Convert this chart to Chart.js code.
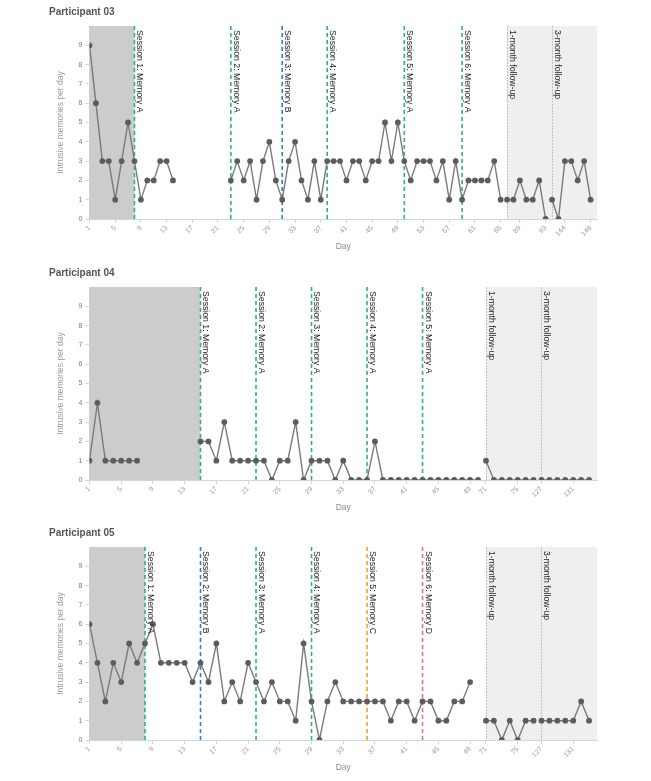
<!DOCTYPE html>
<html>
<head>
<meta charset="utf-8">
<script src="https://cdn.jsdelivr.net/npm/chart.js@4.4.0/dist/chart.umd.min.js"></script>
<style>
  body { margin: 0; background: #fff; }
  .panel { position: absolute; left: 0; width: 651px; height: 260px; }
</style>
</head>
<body>
<div class="panel" style="top:0px"><canvas id="p03"></canvas></div>
<div class="panel" style="top:261px"><canvas id="p04"></canvas></div>
<div class="panel" style="top:521px"><canvas id="p05"></canvas></div>
<script>
// ---- data ----
const yTicks = [0, 1, 2, 3, 4, 5, 6, 7, 8, 9];

// Participant 03
const p03Main = [9, 6, 3, 3, 1, 3, 5, 3, 1, 2, 2, 3, 3, 2,
  null, null, null, null, null, null, null, null,
  2, 3, 2, 3, 1, 3, 4, 2, 1, 3, 4, 2, 1, 3, 1, 3, 3, 3, 2, 3, 3, 2, 3, 3, 5, 3, 5, 3,
  2, 3, 3, 3, 2, 3, 1, 3, 1, 2, 2, 2, 2, 3, 1];
const p03Month1 = [1, 1, 2, 1, 1, 2, 0];
const p03Month1Days = [87, 88, 89, 90, 91, 92, 93];
const p03Month3 = [1, 0, 3, 3, 2, 3, 1];
const p03Month3Days = [142, 143, 144, 145, 146, 147, 148];
const p03TickDays = [1, 5, 9, 13, 17, 21, 25, 29, 33, 37, 41, 45, 49, 53, 57, 61, 65, 89, 93, 144, 148];
const p03SessionDays = [8, 23, 31, 38, 50, 59];
const p03SessionMemory = ['A', 'A', 'B', 'A', 'A', 'A'];

// Participant 04
const p04Main = [1, 4, 1, 1, 1, 1, 1,
  null, null, null, null, null, null, null,
  2, 2, 1, 3, 1, 1, 1, 1, 1, 0, 1, 1, 3, 0, 1, 1, 1, 0, 1, 0, 0, 0, 2, 0,
  0, 0, 0, 0, 0, 0, 0, 0, 0, 0, 0, 0];
const p04Month1 = [1, 0, 0, 0, 0, 0, 0];
const p04Month1Days = [71, 72, 73, 74, 75, 76, 77];
const p04Month3 = [0, 0, 0, 0, 0, 0, 0];
const p04Month3Days = [127, 128, 129, 130, 131, 132, 133];
const p04TickDays = [1, 5, 9, 13, 17, 21, 25, 29, 33, 37, 41, 45, 49, 71, 75, 127, 131];
const p04SessionDays = [15, 22, 29, 36, 43];
const p04SessionMemory = ['A', 'A', 'A', 'A', 'A'];

// Participant 05
const p05Main = [6, 4, 2, 4, 3, 5, 4, 5, 6, 4, 4, 4, 4, 3, 4, 3, 5, 2, 3, 2, 4, 3, 2, 3, 2, 2, 1, 5, 2, 0,
  2, 3, 2, 2, 2, 2, 2, 2, 1, 2, 2, 1, 2, 2, 1, 1, 2, 2, 3, null];
const p05Month1 = [1, 1, 0, 1, 0, 1, 1];
const p05Month1Days = [71, 72, 73, 74, 75, 76, 77];
const p05Month3 = [1, 1, 1, 1, 1, 2, 1];
const p05Month3Days = [127, 128, 129, 130, 131, 132, 133];
const p05TickDays = [1, 5, 9, 13, 17, 21, 25, 29, 33, 37, 41, 45, 49, 71, 75, 127, 131];
const p05SessionDays = [8, 15, 22, 29, 36, 43];
const p05SessionMemory = ['A', 'B', 'A', 'A', 'C', 'D'];

// ---- styling ----
const FONT = '"Liberation Sans", Arial, sans-serif';
const memoryColors = { A: '#2db37f', B: '#2f7fcc', C: '#f2a51c', D: '#d873a6' };

// draws baseline / follow-up bands and the session lines with their labels
const phasePlugin = {
  id: 'phases',
  beforeDatasetsDraw(chart, args, opts) {
    const { ctx, chartArea: a, scales: { x } } = chart;
    ctx.save();
    const x0 = x.getPixelForValue(0);
    const xb = x.getPixelForValue(opts.baselineEnd);
    ctx.fillStyle = '#cccccc';
    ctx.fillRect(x0, a.top, xb - x0, a.bottom - a.top);
    const xf = x.getPixelForValue(opts.followUps[0].at);
    ctx.fillStyle = '#efefef';
    ctx.fillRect(xf, a.top, a.right - xf, a.bottom - a.top);

    ctx.lineWidth = 1;
    ctx.strokeStyle = '#c2c2c2';
    ctx.setLineDash([2, 1]);
    opts.followUps.forEach(f => {
      const px = Math.round(x.getPixelForValue(f.at)) + 0.5;
      ctx.beginPath(); ctx.moveTo(px, a.top); ctx.lineTo(px, a.bottom); ctx.stroke();
    });
    ctx.lineWidth = 1.6;
    ctx.setLineDash([4, 3]);
    opts.sessions.forEach(s => {
      const px = x.getPixelForValue(s.at);
      ctx.strokeStyle = memoryColors[s.memory];
      ctx.beginPath(); ctx.moveTo(px, a.top); ctx.lineTo(px, a.bottom); ctx.stroke();
    });
    ctx.restore();
  },
  afterDatasetsDraw(chart, args, opts) {
    const { ctx, chartArea: a, scales: { x } } = chart;
    ctx.save();
    ctx.font = '8.7px ' + FONT;
    ctx.fillStyle = '#1e1e1e';
    ctx.textBaseline = 'bottom';
    opts.sessions.concat(opts.followUps).forEach(s => {
      const px = x.getPixelForValue(s.at);
      ctx.save();
      ctx.translate(px + 1, a.top + 4);
      ctx.rotate(Math.PI / 2);
      ctx.fillText(s.label, 0, 0);
      ctx.restore();
    });
    ctx.restore();
  }
};

function makeChart(id, title, main, m1, m1Days, m3, m3Days, tickDays, sessionDays, sessionMemory) {
  const mainDays = main.map((v, i) => i + 1);
  const allDays = mainDays.concat(m1Days, m3Days);
  const m1Start = main.length;
  const m3Start = main.length + m1.length;
  const pts = (vals, offset) => vals.map((v, i) => ({ x: offset + i, y: v }));
  const seriesStyle = {
    borderColor: '#7a7a7a',
    borderWidth: 1.4,
    pointRadius: 2.9,
    pointBackgroundColor: '#5c5c5c',
    pointBorderWidth: 0,
    spanGaps: false,
    tension: 0
  };
  new Chart(document.getElementById(id), {
    type: 'line',
    data: {
      datasets: [
        Object.assign({ data: pts(main, 0) }, seriesStyle),
        Object.assign({ data: pts(m1, m1Start) }, seriesStyle),
        Object.assign({ data: pts(m3, m3Start) }, seriesStyle)
      ]
    },
    options: {
      responsive: true,
      maintainAspectRatio: false,
      animation: false,
      layout: { padding: { left: 49, right: 54, top: 0, bottom: 0 } },
      plugins: {
        legend: { display: false },
        tooltip: { enabled: false },
        title: {
          display: true, text: title, align: 'start', color: '#555',
          font: { family: FONT, size: 10, weight: 'bold' },
          padding: { top: 6.5, bottom: 7.5 }
        },
        phases: {
          baselineEnd: allDays.indexOf(sessionDays[0]),
          followUps: [
            { at: m1Start, label: '1-month follow-up' },
            { at: m3Start, label: '3-month follow-up' }
          ],
          sessions: sessionDays.map((d, i) => ({
            at: allDays.indexOf(d),
            memory: sessionMemory[i],
            label: 'Session ' + (i + 1) + ': Memory ' + sessionMemory[i]
          }))
        }
      },
      scales: {
        x: {
          type: 'linear',
          min: 0,
          max: allDays.length,
          afterFit(scale) { scale.height = 41; },
          afterBuildTicks(scale) {
            scale.ticks = tickDays.map(d => ({ value: allDays.indexOf(d) }));
          },
          ticks: {
            autoSkip: false, minRotation: 45, maxRotation: 45, padding: 1,
            color: '#9a9a9a', font: { family: FONT, size: 7 },
            callback: v => String(allDays[v])
          },
          grid: { drawOnChartArea: false, color: '#ccd6eb', tickLength: 4 },
          border: { color: '#ccd6eb' },
          title: {
            display: true, text: 'Day', color: '#8a8a8a',
            font: { family: FONT, size: 8.5 }, padding: { top: 0, bottom: 8 }
          }
        },
        y: {
          min: 0,
          max: 10,
          afterFit(scale) { scale.width = 40.5; },
          afterBuildTicks(scale) { scale.ticks = yTicks.map(v => ({ value: v })); },
          ticks: { color: '#7a7a7a', font: { family: FONT, size: 7 }, padding: 3 },
          grid: { drawOnChartArea: false, color: '#ccd6eb', tickLength: 4 },
          border: { color: '#ccd6eb' },
          title: {
            display: true, text: 'Intrusive memories per day', color: '#9a9a9a',
            font: { family: FONT, size: 8.5 }, padding: { top: 6.5, bottom: 0 }
          }
        }
      }
    },
    plugins: [phasePlugin]
  });
}

makeChart('p03', 'Participant 03', p03Main, p03Month1, p03Month1Days, p03Month3, p03Month3Days,
  p03TickDays, p03SessionDays, p03SessionMemory);
makeChart('p04', 'Participant 04', p04Main, p04Month1, p04Month1Days, p04Month3, p04Month3Days,
  p04TickDays, p04SessionDays, p04SessionMemory);
makeChart('p05', 'Participant 05', p05Main, p05Month1, p05Month1Days, p05Month3, p05Month3Days,
  p05TickDays, p05SessionDays, p05SessionMemory);
</script>
</body>
</html>
